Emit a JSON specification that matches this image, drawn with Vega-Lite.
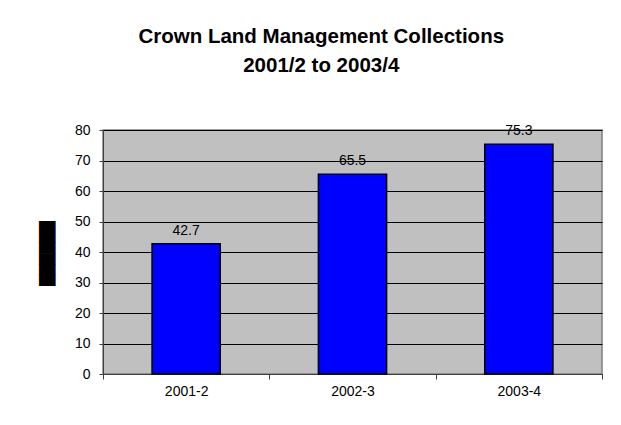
{
  "$schema": "https://vega.github.io/schema/vega-lite/v6.json",
  "width": 499,
  "height": 244,
  "autosize": "none",
  "padding": {"left": 103, "top": 130, "right": 19, "bottom": 51},
  "background": "white",
  "title": {
    "text": ["Crown Land Management Collections", "2001/2 to 2003/4"],
    "anchor": "middle",
    "frame": "bounds",
    "font": "Liberation Sans",
    "fontSize": 20.5,
    "fontWeight": "bold",
    "color": "black",
    "lineHeight": 29,
    "offset": 47
  },
  "data": {
    "values": [
      {"year": "2001-2", "value": 42.7},
      {"year": "2002-3", "value": 65.5},
      {"year": "2003-4", "value": 75.3}
    ]
  },
  "encoding": {
    "x": {
      "field": "year",
      "type": "nominal",
      "sort": null,
      "scale": {"paddingInner": 0, "paddingOuter": 0},
      "axis": {
        "title": null,
        "labelAngle": 0,
        "tickBand": "extent",
        "tickSize": 5,
        "tickColor": "#404040",
        "domainColor": "#404040",
        "labelFont": "Liberation Sans",
        "labelFontSize": 14,
        "labelColor": "black",
        "labelPadding": 5,
        "grid": false
      }
    },
    "y": {
      "field": "value",
      "type": "quantitative",
      "scale": {"domain": [0, 80], "nice": false},
      "axis": {
        "values": [0, 10, 20, 30, 40, 50, 60, 70, 80],
        "title": "██████",
        "titleFont": "DejaVu Sans",
        "titleFontSize": 14,
        "titleColor": "black",
        "titleAngle": -90,
        "titleAlign": "center",
        "titleBaseline": "middle",
        "titleX": -56,
        "titleY": 123,
        "grid": true,
        "gridColor": "#000000",
        "gridWidth": 1,
        "tickSize": 4,
        "tickColor": "#404040",
        "domainColor": "#404040",
        "labelFont": "Liberation Sans",
        "labelFontSize": 14,
        "labelColor": "black",
        "labelPadding": 9
      }
    }
  },
  "layer": [
    {
      "mark": {"type": "bar", "width": {"band": 0.41}, "fill": "#0000FF", "stroke": "black", "strokeWidth": 1.5}
    },
    {
      "mark": {"type": "text", "baseline": "alphabetic", "dy": -9, "font": "Liberation Sans", "fontSize": 14, "color": "black"},
      "encoding": {"text": {"field": "value", "type": "quantitative", "format": ".1f"}}
    }
  ],
  "config": {
    "view": {"fill": "#C0C0C0", "stroke": "#808080", "strokeWidth": 1.5}
  }
}
